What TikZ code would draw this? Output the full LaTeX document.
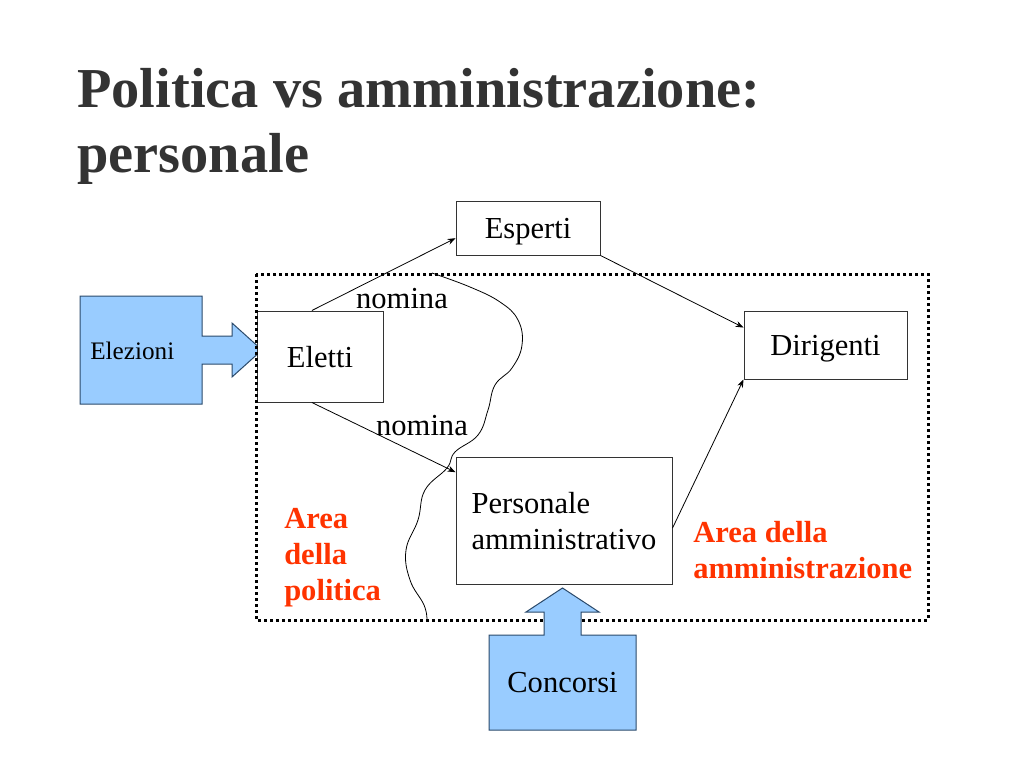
\documentclass[tikz,border=0pt]{standalone}
\usepackage{fontspec}
\setmainfont{Liberation Serif}
\usepackage{xcolor}
\usetikzlibrary{positioning,calc,arrows.meta}
\definecolor{titlegray}{HTML}{333333}
\definecolor{areared}{HTML}{FF3300}
\definecolor{calloutblue}{HTML}{99CCFF}
\definecolor{calloutline}{HTML}{2B4A6B}

\begin{document}
\begin{tikzpicture}[x=0.75pt, y=-0.75pt,
        box/.style={draw=black!80, line width=0.75pt, fill=white, inner sep=0pt,
            text depth=0pt, font=\fontsize{22.9}{27}\selectfont},
        lbl/.style={inner sep=0pt, anchor=base, font=\fontsize{22.9}{27}\selectfont},
        area/.style={inner sep=0pt, anchor=base west, align=left, text=areared,
            font=\fontsize{22.9}{27}\selectfont\bfseries},
        link/.style={-{Stealth[length=6pt,width=4.5pt]}, line width=0.6pt},
        callout/.style={draw=calloutline, line width=0.75pt, fill=calloutblue}]
        \useasboundingbox (0,0) rectangle (1023,767);

        % Title
        \node[anchor=base west, align=left, inner sep=0pt, text=titlegray,
            font=\fontsize{42.3}{48.75}\selectfont\bfseries] (title) at (77,172)
            {Politica vs amministrazione:\\personale};

        % Elezioni
        \draw[callout] (80,296) -- (202,296) -- (202,336) -- (232,336) -- (232,323)
            -- (262,350) -- (232,377) -- (232,364) -- (202,364) -- (202,404)
            -- (80,404) -- cycle;
        \node[anchor=base west, inner sep=0pt, font=\fontsize{18.9}{22}\selectfont]
            (elezioni) at (90,359) {Elezioni};

        % Boxes
        \node[box, minimum width=94.5pt, minimum height=68.25pt] (eletti) at (320,356.5) {Eletti};
        \node[box, minimum width=108pt, minimum height=40.5pt] (esperti) at (528,228) {Esperti};
        \node[box, minimum width=122.25pt, minimum height=51pt] (dirigenti) at (825.5,345) {Dirigenti};
        \node[box, minimum width=162pt, minimum height=95.25pt, align=left] (personale) at (564,520.5)
            {Personale\\amministrativo};

        % Links
        \draw[link] (eletti.100) -- (esperti.188);
        \draw[link] (esperti.south east) -- (dirigenti.168);
        \draw[link] (eletti.260) -- (personale.156);
        \draw[link] (personale.-4) -- (dirigenti.south west);
        \node[lbl] (nomina1) at (402,308) {nomina};
        \node[lbl] (nomina2) at (422,435) {nomina};

        % Border between the two areas
        \draw[line width=0.6pt] plot[smooth, tension=0.7] coordinates {(432,273) (470,287)
            (500,302) (518,320) (522,345) (512,368) (495,385) (488,410) (478,435)
            (455,452) (447,468) (425,490) (418,520) (406,550) (410,580) (424,605) (427,620)};

        % Areas
        \draw[line width=2.25pt, dash pattern=on 2.25pt off 2.25pt] (256,274) rectangle (928,620);
        \node[area] (politica) at (284,600) {Area\\della\\politica};
        \node[area] (amministrazione) at (693,578) {Area della\\amministrazione};

        % Concorsi
        \draw[callout] (489,635) -- (544,635) -- (544,612) -- (526,612) -- (562.5,588)
            -- (599,612) -- (581,612) -- (581,635) -- (636,635) -- (636,730)
            -- (489,730) -- cycle;
        \node[inner sep=0pt, font=\fontsize{22.9}{27}\selectfont] (concorsi) at (562.5,682.5) {Concorsi};
    \end{tikzpicture}
\end{document}
